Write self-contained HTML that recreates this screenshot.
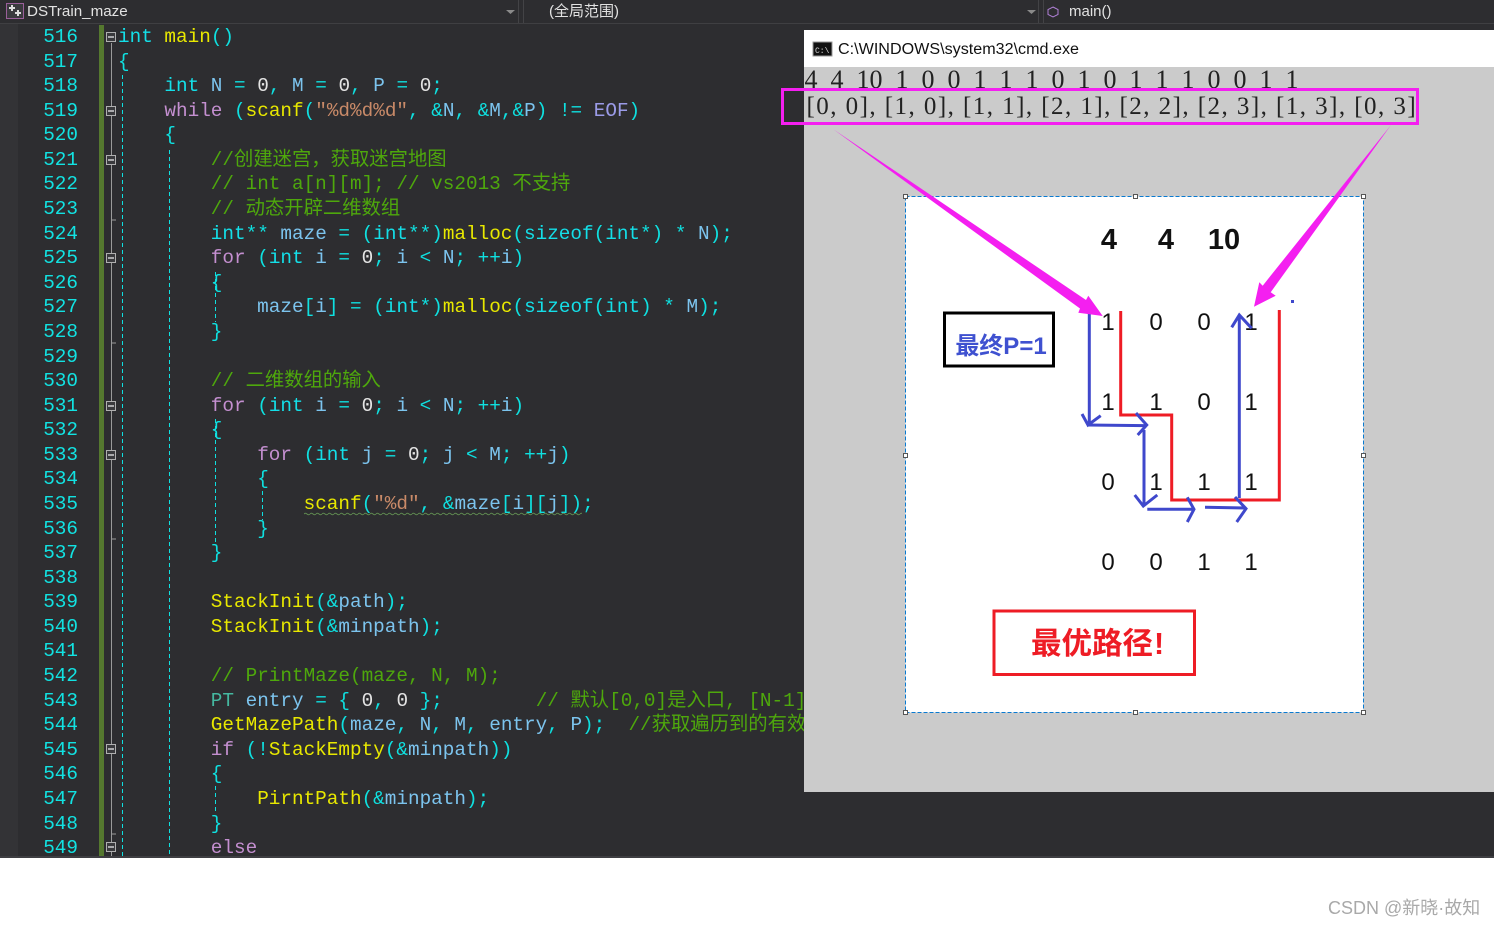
<!DOCTYPE html>
<html><head><meta charset="utf-8"><style>
html,body{margin:0;padding:0;background:#fff}
#r{position:relative;width:1494px;height:926px;overflow:hidden;background:#fff;font-family:"Liberation Sans","Noto Sans CJK SC",sans-serif}
#ed{position:absolute;left:0;top:0;width:1494px;height:858px;background:#2d2d30;overflow:hidden}
#ln,#code{position:absolute;margin:0;top:25px;font:19.33px/24.58px "Liberation Mono","Noto Sans CJK SC",monospace}
#ln{left:0;width:78px;text-align:right;color:#12e2e2}
#code{left:118px;color:#7cc4ee;white-space:pre}
i{font-style:normal}
.k{color:#c48fd0}.t{color:#14dfe8}.f{color:#e8e800}.p{color:#0fe0e0}.c{color:#4ea80c}.s{color:#c98a68}.y{color:#45b8a0}.w{color:#e4e4e4}.v{color:#7cc4ee}
.a{position:absolute;white-space:pre}
</style></head><body><div id="r">
<div id="ed">
<div class="a" style="left:0;top:24px;width:18px;height:833px;background:#333336"></div>
<div class="a" style="left:99px;top:25px;width:5px;height:832px;background:#55782f"></div>
<pre id="ln">516
517
518
519
520
521
522
523
524
525
526
527
528
529
530
531
532
533
534
535
536
537
538
539
540
541
542
543
544
545
546
547
548
549</pre>
<pre id="code"><i class="t">int</i> <i class="f">main</i><i class="p">()</i>
<i class="p">{</i>
    <i class="t">int</i> N <i class="p">=</i> <i class="w">0</i><i class="p">,</i> M <i class="p">=</i> <i class="w">0</i><i class="p">,</i> P <i class="p">=</i> <i class="w">0</i><i class="p">;</i>
    <i class="k">while</i> <i class="p">(</i><i class="f">scanf</i><i class="p">(</i><i class="s">"%d%d%d"</i><i class="p">,</i> <i class="p">&amp;</i>N<i class="p">,</i> <i class="p">&amp;</i>M<i class="p">,&amp;</i>P<i class="p">)</i> <i class="p">!=</i> <i style="color:#9b9be8">EOF</i><i class="p">)</i>
    <i class="p">{</i>
        <i class="c">//创建迷宫，获取迷宫地图</i>
        <i class="c">// int a[n][m]; // vs2013 不支持</i>
        <i class="c">// 动态开辟二维数组</i>
        <i class="t">int</i><i class="p">**</i> maze <i class="p">=</i> <i class="p">(</i><i class="t">int</i><i class="p">**)</i><i class="f">malloc</i><i class="p">(</i><i class="t">sizeof</i><i class="p">(</i><i class="t">int</i><i class="p">*)</i> <i class="p">*</i> N<i class="p">);</i>
        <i class="k">for</i> <i class="p">(</i><i class="t">int</i> i <i class="p">=</i> <i class="w">0</i><i class="p">;</i> i <i class="p">&lt;</i> N<i class="p">;</i> <i class="p">++</i>i<i class="p">)</i>
        <i class="p">{</i>
            maze<i class="p">[</i>i<i class="p">]</i> <i class="p">=</i> <i class="p">(</i><i class="t">int</i><i class="p">*)</i><i class="f">malloc</i><i class="p">(</i><i class="t">sizeof</i><i class="p">(</i><i class="t">int</i><i class="p">)</i> <i class="p">*</i> M<i class="p">);</i>
        <i class="p">}</i>

        <i class="c">// 二维数组的输入</i>
        <i class="k">for</i> <i class="p">(</i><i class="t">int</i> i <i class="p">=</i> <i class="w">0</i><i class="p">;</i> i <i class="p">&lt;</i> N<i class="p">;</i> <i class="p">++</i>i<i class="p">)</i>
        <i class="p">{</i>
            <i class="k">for</i> <i class="p">(</i><i class="t">int</i> j <i class="p">=</i> <i class="w">0</i><i class="p">;</i> j <i class="p">&lt;</i> M<i class="p">;</i> <i class="p">++</i>j<i class="p">)</i>
            <i class="p">{</i>
                <i class="f">scanf</i><i class="p">(</i><i class="s">"%d"</i><i class="p">,</i> <i class="p">&amp;</i>maze<i class="p">[</i>i<i class="p">][</i>j<i class="p">]);</i>
            <i class="p">}</i>
        <i class="p">}</i>

        <i class="f">StackInit</i><i class="p">(&amp;</i>path<i class="p">);</i>
        <i class="f">StackInit</i><i class="p">(&amp;</i>minpath<i class="p">);</i>

        <i class="c">// PrintMaze(maze, N, M);</i>
        <i class="y">PT</i> entry <i class="p">=</i> <i class="p">{</i> <i class="w">0</i><i class="p">,</i> <i class="w">0</i> <i class="p">};</i>        <i class="c">// 默认[0,0]是入口, [N-1][M-1]是出口</i>
        <i class="f">GetMazePath</i><i class="p">(</i>maze<i class="p">,</i> N<i class="p">,</i> M<i class="p">,</i> entry<i class="p">,</i> P<i class="p">);</i>  <i class="c">//获取遍历到的有效路径</i>
        <i class="k">if</i> <i class="p">(!</i><i class="f">StackEmpty</i><i class="p">(&amp;</i>minpath<i class="p">))</i>
        <i class="p">{</i>
            <i class="f">PirntPath</i><i class="p">(&amp;</i>minpath<i class="p">);</i>
        <i class="p">}</i>
        <i class="k">else</i></pre>
<div class="a" style="left:0;top:0;width:1494px;height:23px;background:#2d2d30;border-bottom:1px solid #3f3f42"></div>
<div class="a" style="left:27px;top:3px;font-size:15.200px;color:#e2e2e2;line-height:18px">DSTrain_maze</div>
<div class="a" style="left:549px;top:3px;font-size:15px;color:#e2e2e2;line-height:18px">(全局范围)</div>
<div class="a" style="left:1069px;top:3px;font-size:15px;color:#e2e2e2;line-height:18px">main()</div>
<div class="a" style="left:0;top:856px;width:1494px;height:2px;background:#3e3e42"></div>
</div>
<svg class="a" style="left:0;top:0" width="1494" height="926" viewBox="0 0 1494 926">
<defs><pattern id="sq" x="304" y="512" width="6" height="4" patternUnits="userSpaceOnUse"><path d="M0 1.500Q1.500 0 3 1.500T6 1.500" transform="translate(0,.5)" fill="none" stroke="#5f8a50"/></pattern></defs>
<rect x="6.500" y="3.500" width="17" height="15" fill="#3a3a3e" stroke="#9a5f9a"/>
<path d="M9 7h2V5h2v2h2v2h-2v2h-2V9H9zM15 12h2v-2h2v2h2v2h-2v2h-2v-2h-2z" fill="#ddd"/>
<path d="M506 10h9l-4.500 4z M1027 10h9l-4.500 4z" fill="#8a8a8a"/>
<path d="M518.500 0v23M523.500 0v23M1038.500 0v23M1043.500 0v23" stroke="#434346"/>
<path d="M1053 7l5 2.500v5l-5 2.500l-5-2.500v-5z" fill="none" stroke="#b180d7"/>
<path d="M111.500 43V856" stroke="#9a9a9a" stroke-width="1"/>
<path d="M112 220h4M112 343h4M112 539h4M112 834h4" stroke="#9a9a9a"/>
<g fill="#3a3a3d" stroke="#b0b0b0"><rect x="106.500" y="32.500" width="9" height="9"/><rect x="106.500" y="106.500" width="9" height="9"/><rect x="106.500" y="155.500" width="9" height="9"/><rect x="106.500" y="253.500" width="9" height="9"/><rect x="106.500" y="401.500" width="9" height="9"/><rect x="106.500" y="450.500" width="9" height="9"/><rect x="106.500" y="744.500" width="9" height="9"/><rect x="106.500" y="842.500" width="9" height="9"/></g>
<path d="M108 37h6M108 111h6M108 160h6M108 258h6M108 406h6M108 455h6M108 749h6M108 847h6" stroke="#eee" stroke-width="1.300"/>
<g stroke="#0fe0e0" stroke-dasharray="4 3" fill="none"><path d="M122.500 75V856"/><path d="M169.500 150V856"/><path d="M215.500 272V322M215.500 419V545M215.500 786V812"/><path d="M262.500 491V520"/></g>
<rect x="304" y="512" width="278" height="4" fill="url(#sq)"/>

<rect x="804" y="30" width="690" height="762" fill="#cbcbcb"/>
<rect x="804" y="30" width="690" height="37" fill="#fff"/>
<rect x="813" y="42" width="19" height="14" fill="#111" stroke="#999"/>
<text x="815" y="53" font-family="Liberation Mono" font-size="8" fill="#ddd">C:\</text>
<text x="838" y="54" font-family="Liberation Sans" font-size="15.500" fill="#111" textLength="241" lengthAdjust="spacingAndGlyphs">C:\WINDOWS\system32\cmd.exe</text>
<text x="804.500" y="88" font-family="Liberation Serif" font-size="26" fill="#222" style="word-spacing:6.500px">4 4 10 1 0 0 1 1 1 0 1 0 1 1 1 0 0 1 1</text>
<text x="806.500" y="114" font-family="Liberation Serif" font-size="25" fill="#222" style="letter-spacing:1.450px">[0, 0], [1, 0], [1, 1], [2, 1], [2, 2], [2, 3], [1, 3], [0, 3]</text>
<rect x="782.500" y="89.500" width="635" height="34" fill="none" stroke="#f41ff0" stroke-width="3"/>

<rect x="905.500" y="196.500" width="458" height="516" fill="#fff" stroke="#0a7ad0" stroke-dasharray="4 2"/>
<g fill="#fff" stroke="#555"><rect x="903.500" y="194.500" width="4" height="4"/><rect x="1133.500" y="194.500" width="4" height="4"/><rect x="1361.500" y="194.500" width="4" height="4"/><rect x="903.500" y="453.500" width="4" height="4"/><rect x="1361.500" y="453.500" width="4" height="4"/><rect x="903.500" y="710.500" width="4" height="4"/><rect x="1133.500" y="710.500" width="4" height="4"/><rect x="1361.500" y="710.500" width="4" height="4"/></g>

<g font-family="Liberation Sans" font-weight="bold" font-size="29" fill="#111" text-anchor="middle"><text x="1109" y="249">4</text><text x="1166" y="249">4</text><text x="1224" y="249">10</text></g>
<g font-family="Liberation Sans" font-size="24" fill="#111" text-anchor="middle">
<text x="1108" y="330">1</text><text x="1156" y="330">0</text><text x="1204" y="330">0</text><text x="1251" y="330">1</text>
<text x="1108" y="410">1</text><text x="1156" y="410">1</text><text x="1204" y="410">0</text><text x="1251" y="410">1</text>
<text x="1108" y="490">0</text><text x="1156" y="490">1</text><text x="1204" y="490">1</text><text x="1251" y="490">1</text>
<text x="1108" y="570">0</text><text x="1156" y="570">0</text><text x="1204" y="570">1</text><text x="1251" y="570">1</text></g>
<rect x="944.500" y="313" width="109" height="53" fill="#fff" stroke="#000" stroke-width="3"/>
<text x="1001" y="354" font-family="Liberation Sans, Noto Sans CJK SC, sans-serif" font-weight="bold" font-size="24" fill="#3f51d0" text-anchor="middle">最终P=1</text>
<rect x="994" y="611" width="200.500" height="63.500" fill="#fff" stroke="#ee1c25" stroke-width="3"/>
<text x="1031" y="654" font-family="Liberation Sans, Noto Sans CJK SC, sans-serif" font-weight="bold" font-size="30.500" fill="#ee1c25">最优路径<tspan x="1154">!</tspan></text>

<path d="M1120.700 311V415H1171.700V500H1279.300V310" fill="none" stroke="#ee1c25" stroke-width="3"/>
<g fill="none" stroke="#3f48cc" stroke-width="3">
<path d="M1089.300 313V425M1082 414L1088 425L1100.700 415.700"/>
<path d="M1087 425L1146 425.700M1136 413L1146.700 425L1137.700 435"/>
<path d="M1144 430V506M1134.700 495L1143.300 506L1157.300 495"/>
<path d="M1147.300 509.300H1193M1187.300 497.300L1194 509.300L1187.300 522"/>
<path d="M1205 507.300L1245 508M1235 497L1246 508.700L1236.700 522"/>
<path d="M1239.300 498V315M1231.700 327.300L1239.300 315L1251.700 328.300"/>
</g>
<rect x="1291" y="300" width="3" height="3" fill="#3f48cc"/>
<polygon points="833.300,129.300 1086,300 1088.300,295.700 1102.700,316 1078.300,312.700 1080,308.500" fill="#f41ff0"/>
<polygon points="1391,125 1270.700,292.300 1275.700,295.700 1254,306.700 1259.300,282.300 1262.700,285.700" fill="#f41ff0"/>
</svg>
<div class="a" style="left:1328px;top:897px;font-size:18px;line-height:22px;color:#a9a9a9">CSDN @新晓·故知</div>
</div></body></html>
